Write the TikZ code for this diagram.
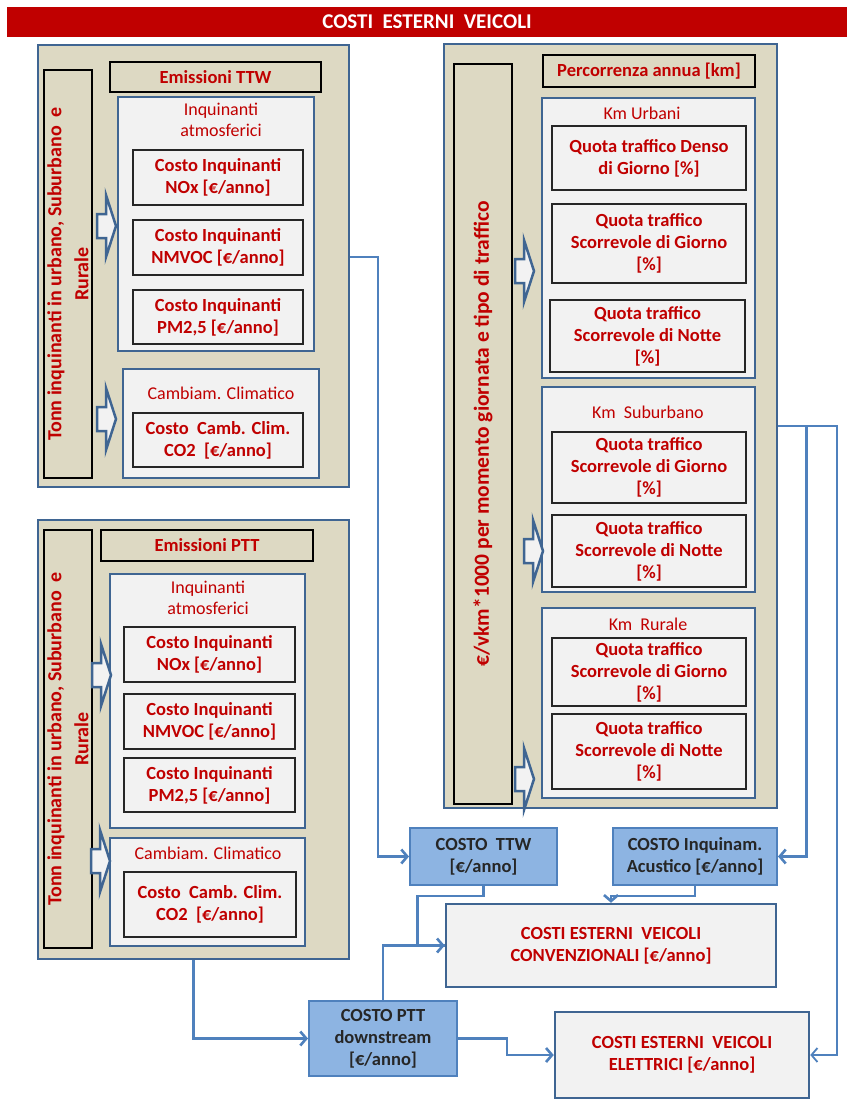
\documentclass[tikz,border=0pt]{standalone}
\usepackage{fontspec}
\setmainfont{Carlito}
\usetikzlibrary{arrows.meta}
\definecolor{tred}{HTML}{C00000}
\definecolor{beige}{HTML}{DDD9C3}
\definecolor{pbord}{HTML}{3F6592}
\definecolor{lgray}{HTML}{F2F2F2}
\definecolor{cline}{HTML}{4F81BD}
\definecolor{cfill}{HTML}{8DB4E2}
\definecolor{dtext}{HTML}{262626}
\newcommand\bx[7]{\node[#6, minimum width={(#4-#2)*1pt}, minimum height={(#5-#3)*1pt}] (#1) at ({(#2+#4)/2},{(#3+#5)/2}) {#7};}
\newcommand\vbx[7]{\node[#6, rotate=90, minimum width={(#5-#3)*1pt}, minimum height={(#4-#2)*1pt}] (#1) at ({(#2+#4)/2},{(#3+#5)/2}) {#7};}
\newcommand\barw[2]{\draw[blockarrow] (#1,#2-12) -- (#1+9,#2-12) -- (#1+9,#2-31) -- (#1+19,#2) -- (#1+9,#2+31) -- (#1+9,#2+12) -- (#1,#2+12) -- cycle;}
\tikzset{
  panel/.style={draw=pbord, line width=2.5pt, fill=beige, inner sep=0},
  vbox/.style={draw=black, line width=2pt, fill=beige, text=tred, font=\fontsize{20}{27}\selectfont\bfseries, align=center, inner sep=0},
  hbox/.style={draw=black, line width=2pt, fill=beige, text=tred, font=\fontsize{18.5}{22}\selectfont\bfseries, inner sep=0},
  group/.style={draw=pbord, line width=2.5pt, fill=lgray, inner sep=0},
  item/.style={draw=black!85, line width=1.2pt, fill=lgray, text=tred, font=\fontsize{18.5}{22}\selectfont\bfseries, align=center, inner sep=0},
  gtitle/.style={text=tred, font=\fontsize{18}{21}\selectfont, align=center, inner sep=0},
  cost/.style={draw=cline, line width=2pt, fill=cfill, text=dtext, font=\fontsize{18.5}{22}\selectfont\bfseries, align=center, inner sep=0},
  result/.style={draw=pbord, line width=2.5pt, fill=lgray, text=tred, font=\fontsize{18.5}{22}\selectfont\bfseries, align=center, inner sep=0},
  conn/.style={draw=cline, line width=2.6pt},
  thinconn/.style={draw=cline, line width=1.8pt},
  arr/.style={-{Straight Barb[length=6pt,width=14pt]}},
  blockarrow/.style={draw=pbord, line width=2.5pt, fill=lgray, line join=miter},
  titlebar/.style={fill=tred, text=white, font=\fontsize{21}{24}\selectfont\bfseries, inner sep=0}
}
\begin{document}
\begin{tikzpicture}[x=1pt,y=-1pt]
\useasboundingbox[fill=white] (0,0) rectangle (847,1102);
% title
\bx{title}{7}{7}{847}{37}{titlebar}{COSTI~~ESTERNI~~VEICOLI}
% ---------- TTW panel
\bx{ttw}{38}{45}{349}{487}{panel}{}
\vbx{ttwv}{44}{70}{92}{478}{vbox}{Tonn inquinanti in urbano, Suburbano~~e\\Rurale}
\bx{ttwh}{110}{62}{321}{92}{hbox}{Emissioni TTW}
\bx{ttwa}{118}{97}{314}{351}{group}{}
\node[gtitle] (ttwat) at (221,120) {Inquinanti\\atmosferici};
\bx{ttw1}{133}{150}{303}{205}{item}{Costo Inquinanti\\NOx [€/anno]}
\bx{ttw2}{133}{220}{303}{275}{item}{Costo Inquinanti\\NMVOC [€/anno]}
\bx{ttw3}{133}{290}{303}{344}{item}{Costo Inquinanti\\PM2,5 [€/anno]}
\bx{ttwc}{123}{369}{319}{478}{group}{}
\node[gtitle] (ttwct) at (221,393) {Cambiam. Climatico};
\bx{ttwc1}{133}{413}{303}{467}{item}{Costo~~Camb. Clim.\\CO2~~[€/anno]}
\barw{97}{226}
\barw{97}{419}
% ---------- PTT panel
\bx{ptt}{38}{520}{349}{959}{panel}{}
\vbx{pttv}{44}{530}{92}{948}{vbox}{Tonn inquinanti in urbano, Suburbano~~e\\Rurale}
\bx{ptth}{101}{530}{313}{561}{hbox}{Emissioni PTT}
\bx{ptta}{110}{574}{305}{828}{group}{}
\node[gtitle] (pttat) at (208,598) {Inquinanti\\atmosferici};
\bx{ptt1}{124}{627}{295}{682}{item}{Costo Inquinanti\\NOx [€/anno]}
\bx{ptt2}{124}{694}{295}{749}{item}{Costo Inquinanti\\NMVOC [€/anno]}
\bx{ptt3}{124}{758}{295}{812}{item}{Costo Inquinanti\\PM2,5 [€/anno]}
\bx{pttc}{110}{838}{305}{946}{group}{}
\node[gtitle] (pttct) at (208,853) {Cambiam. Climatico};
\bx{pttc1}{124}{872}{296}{937}{item}{Costo~~Camb. Clim.\\CO2~~[€/anno]}
\barw{92}{675}
\barw{91}{861}
% ---------- Percorrenza panel
\bx{perc}{444}{44}{777}{808}{panel}{}
\vbx{percv}{454}{64}{512}{804}{vbox,font=\fontsize{21.5}{27}\selectfont\bfseries}{€/vkm*1000 per momento giornata e tipo di traffico}
\bx{perch}{543}{55}{755}{87}{hbox}{Percorrenza annua [km]}
\bx{urb}{542}{98}{755}{378}{group}{}
\node[gtitle] (urbt) at (642,113) {Km Urbani};
\bx{u1}{552}{126}{746}{190}{item}{Quota traffico Denso\\di Giorno [\%]}
\bx{u2}{552}{204}{746}{283}{item}{Quota traffico\\Scorrevole di Giorno\\{}[\%]}
\bx{u3}{550}{300}{745}{372}{item}{Quota traffico\\Scorrevole di Notte\\{}[\%]}
\bx{sub}{542}{387}{755}{592}{group}{}
\node[gtitle] (subt) at (648,412) {Km~~Suburbano};
\bx{s1}{552}{432}{746}{503}{item}{Quota traffico\\Scorrevole di Giorno\\{}[\%]}
\bx{s2}{552}{515}{746}{587}{item}{Quota traffico\\Scorrevole di Notte\\{}[\%]}
\bx{rur}{542}{608}{755}{798}{group}{}
\node[gtitle] (rurt) at (648,624) {Km~~Rurale};
\bx{r1}{552}{638}{746}{706}{item}{Quota traffico\\Scorrevole di Giorno\\{}[\%]}
\bx{r2}{552}{714}{746}{789}{item}{Quota traffico\\Scorrevole di Notte\\{}[\%]}
\barw{515}{271}
\barw{524}{551}
\barw{515}{779}
% ---------- bottom cost boxes
\bx{cttw}{410}{828}{557}{885}{cost}{COSTO~~TTW\\{}[€/anno]}
\bx{cacu}{613}{828}{777}{885}{cost}{COSTO Inquinam.\\Acustico [€/anno]}
\bx{conv}{446}{904}{776}{987}{result}{COSTI ESTERNI~~VEICOLI\\CONVENZIONALI [€/anno]}
\bx{cptt}{309}{1001}{457}{1076}{cost}{COSTO PTT\\downstream\\{}[€/anno]}
\bx{elet}{555}{1012}{809}{1098}{result}{COSTI ESTERNI~~VEICOLI\\ELETTRICI [€/anno]}
% ---------- connectors
\draw[conn,arr] ([yshift=9pt]ttw.east) -| ([xshift=-31pt]cttw.west) -- (cttw.west);
\draw[conn,arr] (cttw.south) -- ++(0,10) -| ([xshift=-27pt]conv.west) -- (conv.west);
\draw[conn] (cptt.north) |- (conv.west);
\draw[conn,arr] (ptt.south) |- (cptt.west);
\draw[conn,arr] (cptt.east) -- ++(49,0) |- (elet.west);
\draw[conn,arr] (cacu.south) -- ++(0,10) -| (conv.north);
\draw[conn,arr] (perc.east) -- ++(28,0) |- (cacu.east);
\draw[thinconn,arr] (perc.east) -- ++(59,0) |- (elet.east);
\end{tikzpicture}
\end{document}
